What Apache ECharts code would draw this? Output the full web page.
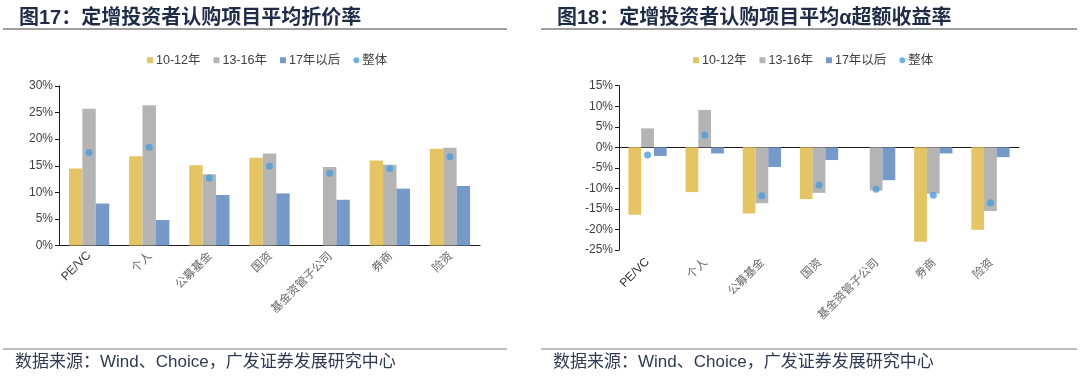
<!DOCTYPE html>
<html><head><meta charset="utf-8">
<script src="https://cdn.jsdelivr.net/npm/echarts@6/dist/echarts.min.js"></script>
<style>html,body{margin:0;padding:0;background:#fff}#c{width:1080px;height:381px}</style>
</head><body><div id="c"></div>
<script>
// ---- data ----
const categories = ['PE/VC', '个人', '公募基金', '国资', '基金资管子公司', '券商', '险资'];
const seriesNames = ['10-12年', '13-16年', '17年以后', '整体'];
// Fig 17: average discount rate (%)
const discount1012 = [14.5, 16.8, 15.1, 16.5, null, 16.0, 18.2];
const discount1316 = [25.7, 26.4, 13.4, 17.3, 14.75, 15.2, 18.4];
const discount17 = [7.9, 4.8, 9.5, 9.8, 8.6, 10.7, 11.2];
const discountAll = [17.5, 18.5, 12.7, 14.9, 13.6, 14.5, 16.7];
// Fig 18: average alpha excess return (%)
const alpha1012 = [-16.4, -10.9, -16.1, -12.6, null, -23.0, -20.1];
const alpha1316 = [4.6, 9.1, -13.6, -11.1, -10.5, -11.3, -15.5];
const alpha17 = [-2.1, -1.5, -4.8, -3.1, -8.0, -1.5, -2.4];
const alphaAll = [-1.9, 3.0, -11.8, -9.2, -10.2, -11.7, -13.5];
// tick labels
const leftTicks = [0, 5, 10, 15, 20, 25, 30];
const rightTicks = [-25, -20, -15, -10, -5, 0, 5, 10, 15];
const titles = ['图17：定增投资者认购项目平均折价率', '图18：定增投资者认购项目平均α超额收益率'];
const source = '数据来源：Wind、Choice，广发证券发展研究中心';

// ---- styles ----
const COLORS = ['#E5C563', '#B4B4B4', '#7599C8', '#4A9DDF'];
const AX = '#1a1a1a';
const LBL = '#404040';
const latin = 'Liberation Sans, Arial, sans-serif';
const cjk = 'Liberation Sans, "Noto Sans CJK SC", sans-serif';

function catLabel(v) {
  return /^[A-Za-z\/]+$/.test(v) ? '{a|' + v + '}' : '{b|' + v + '}';
}
const catRich = {
  a: { fontFamily: latin, fontSize: 12, color: '#333' },
  b: { fontFamily: '"Noto Sans CJK SC", sans-serif', fontSize: 11.5, color: '#666' }
};

function legend(left) {
  return {
    left: left, top: 54, padding: 0, itemGap: 13, itemWidth: 6, itemHeight: 6,
    textStyle: { fontFamily: cjk, fontSize: 12.5, color: LBL, padding: [0, 0, 0, -2] },
    data: [
      { name: seriesNames[0], icon: 'rect' },
      { name: seriesNames[1], icon: 'rect' },
      { name: seriesNames[2], icon: 'rect' },
      { name: seriesNames[3], icon: 'circle', itemStyle: { color: COLORS[3] } }
    ]
  };
}

function bars(idx, xi, yi, data) {
  return {
    name: seriesNames[idx], type: 'bar', xAxisIndex: xi, yAxisIndex: yi, data: data,
    barGap: '0%', barCategoryGap: '33%', itemStyle: { color: COLORS[idx] },
    emphasis: { disabled: true }, animation: false
  };
}
function dots(xi, yi, data) {
  return {
    name: seriesNames[3], type: 'scatter', xAxisIndex: xi, yAxisIndex: yi, data: data,
    symbolSize: 7, itemStyle: { color: COLORS[3] }, z: 5, animation: false
  };
}

const chart = echarts.init(document.getElementById('c'), null, { renderer: 'canvas' });
chart.setOption({
  animation: false,
  color: COLORS,
  title: [
    { text: titles[0], left: 14, top: 3, textStyle: { fontFamily: cjk, fontSize: 20, fontWeight: 'bold', color: '#1f2c48' } },
    { text: titles[1], left: 552, top: 3, textStyle: { fontFamily: cjk, fontSize: 20, fontWeight: 'bold', color: '#1f2c48' } }
  ],
  legend: [legend(147), legend(693)],
  grid: [
    { left: 59, top: 86, width: 421, height: 159.5 },
    { left: 619, top: 85.7, width: 400, height: 164.3 }
  ],
  xAxis: [
    {
      gridIndex: 0, type: 'category', data: categories,
      axisLine: { lineStyle: { color: AX, width: 1 } },
      axisTick: { length: 4, lineStyle: { color: AX } },
      axisLabel: { rotate: 45, margin: 8, interval: 0, formatter: catLabel, rich: catRich }
    },
    {
      gridIndex: 1, type: 'category', data: categories,
      axisLine: { onZero: true, lineStyle: { color: AX, width: 1 } },
      axisTick: { length: 4, lineStyle: { color: AX } },
      axisLabel: { show: false }
    },
    {
      gridIndex: 1, type: 'category', data: categories, position: 'bottom',
      axisLine: { show: false, onZero: false }, axisTick: { show: false },
      axisLabel: { rotate: 45, margin: 10, interval: 0, formatter: catLabel, rich: catRich }
    }
  ],
  yAxis: [
    {
      gridIndex: 0, type: 'value', min: leftTicks[0], max: leftTicks[leftTicks.length - 1], interval: leftTicks[1] - leftTicks[0],
      axisLine: { show: true, lineStyle: { color: AX } },
      axisTick: { show: true, length: 4, lineStyle: { color: AX } },
      splitLine: { show: false },
      axisLabel: { formatter: '{value}%', fontFamily: latin, fontSize: 12, color: LBL, margin: 6 }
    },
    {
      gridIndex: 1, type: 'value', min: rightTicks[0], max: rightTicks[rightTicks.length - 1], interval: rightTicks[1] - rightTicks[0],
      axisLine: { show: true, lineStyle: { color: AX } },
      axisTick: { show: true, length: 4, lineStyle: { color: AX } },
      splitLine: { show: false },
      axisLabel: { formatter: '{value}%', fontFamily: latin, fontSize: 12, color: LBL, margin: 6 }
    }
  ],
  series: [
    bars(0, 0, 0, discount1012), bars(1, 0, 0, discount1316), bars(2, 0, 0, discount17), dots(0, 0, discountAll),
    bars(0, 1, 1, alpha1012), bars(1, 1, 1, alpha1316), bars(2, 1, 1, alpha17), dots(1, 1, alphaAll)
  ],
  graphic: [
    { type: 'line', shape: { x1: 3, y1: 29, x2: 507, y2: 29 }, style: { stroke: '#7f7f7f', lineWidth: 1.5 } },
    { type: 'line', shape: { x1: 541, y1: 29, x2: 1077, y2: 29 }, style: { stroke: '#7f7f7f', lineWidth: 1.5 } },
    { type: 'line', shape: { x1: 3, y1: 349, x2: 507, y2: 349 }, style: { stroke: '#7f7f7f', lineWidth: 1 } },
    { type: 'line', shape: { x1: 541, y1: 349, x2: 1077, y2: 349 }, style: { stroke: '#7f7f7f', lineWidth: 1 } },
    { type: 'text', left: 15, top: 354, style: { text: source, font: '17px Liberation Sans, "Noto Sans CJK SC", sans-serif', fill: '#2e3a52' } },
    { type: 'text', left: 553, top: 354, style: { text: source, font: '17px Liberation Sans, "Noto Sans CJK SC", sans-serif', fill: '#2e3a52' } }
  ]
});
</script></body></html>
